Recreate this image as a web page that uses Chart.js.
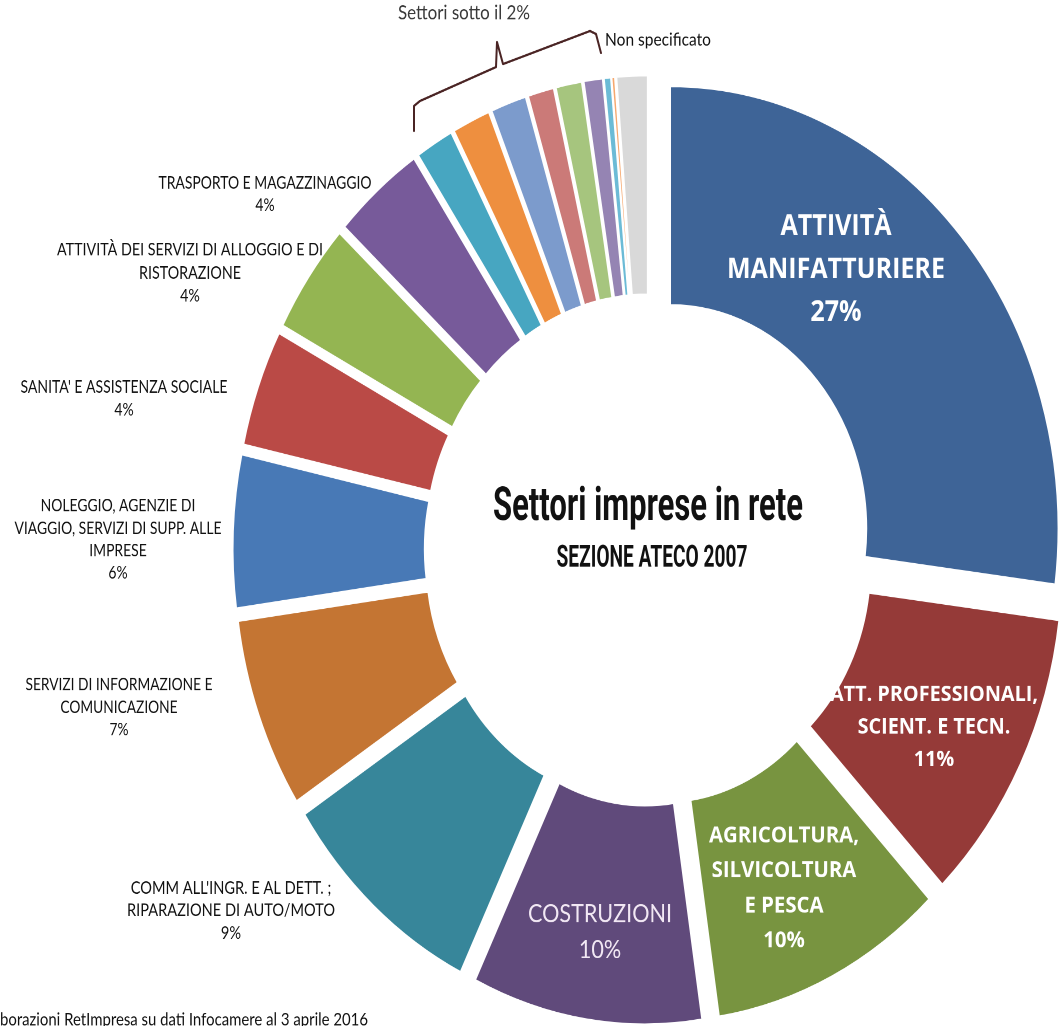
<!DOCTYPE html>
<html><head><meta charset="utf-8">
<script src="https://cdn.jsdelivr.net/npm/chart.js@4.4.1/dist/chart.umd.min.js"></script>
<style>
html,body{margin:0;padding:0;background:#fff;overflow:hidden;width:1060px;height:1026px;}
#stage{width:1060px;height:900px;transform-origin:0 0;position:relative;}
</style></head><body>
<div id="stage"><canvas id="c"></canvas></div>
<script>
// ---- data ----
const categories = [
  'ATTIVITÀ MANIFATTURIERE',
  'ATT. PROFESSIONALI, SCIENT. E TECN.',
  'AGRICOLTURA, SILVICOLTURA E PESCA',
  'COSTRUZIONI',
  "COMM ALL'INGR. E AL DETT. ; RIPARAZIONE DI AUTO/MOTO",
  'SERVIZI DI INFORMAZIONE E COMUNICAZIONE',
  'NOLEGGIO, AGENZIE DI VIAGGIO, SERVIZI DI SUPP. ALLE IMPRESE',
  "SANITA' E ASSISTENZA SOCIALE",
  'ATTIVITÀ DEI SERVIZI DI ALLOGGIO E DI RISTORAZIONE',
  'TRASPORTO E MAGAZZINAGGIO',
  'Settore sotto il 2% (1)',
  'Settore sotto il 2% (2)',
  'Settore sotto il 2% (3)',
  'Settore sotto il 2% (4)',
  'Settore sotto il 2% (5)',
  'Settore sotto il 2% (6)',
  'Settore sotto il 2% (7)',
  'Settore sotto il 2% (8)',
  'Non specificato'
];
const values = [27.1, 10.9, 9.8, 9.6, 8.7, 7.0, 5.6, 4.3, 4.1, 3.8,
                1.6, 1.6, 1.5, 1.1, 1.1, 0.8, 0.3, 0.15, 1.3];
const labelLines = [
  ['ATTIVITÀ', 'MANIFATTURIERE'],
  ['ATT. PROFESSIONALI,', 'SCIENT. E TECN.'],
  ['AGRICOLTURA,', 'SILVICOLTURA', 'E PESCA'],
  ['COSTRUZIONI'],
  ["COMM ALL'INGR. E AL DETT. ;", 'RIPARAZIONE DI AUTO/MOTO'],
  ['SERVIZI DI INFORMAZIONE E', 'COMUNICAZIONE'],
  ['NOLEGGIO, AGENZIE DI', 'VIAGGIO, SERVIZI DI SUPP. ALLE', 'IMPRESE'],
  ["SANITA' E ASSISTENZA SOCIALE"],
  ['ATTIVITÀ DEI SERVIZI DI ALLOGGIO E DI', 'RISTORAZIONE'],
  ['TRASPORTO E MAGAZZINAGGIO']
];
const centerTitle = 'Settori imprese in rete';
const centerSubtitle = 'SEZIONE ATECO 2007';
const bracketLabel = 'Settori sotto il 2%';
const unspecifiedLabel = 'Non specificato';
const sourceNote = 'Elaborazioni RetImpresa su dati Infocamere al 3 aprile 2016';

// ---- styles ----
const colors = ['#3E6497', '#953A38', '#789440', '#604A7B', '#37869A', '#C47533', '#4879B6',
  '#BA4A46', '#94B552', '#775A9A', '#47A6C1', '#EE8F3F', '#7C9BCC', '#CB7A78', '#A6C57E',
  '#9584B3', '#6CBBD6', '#F6A86E', '#D9D9D9'];
const STRETCH = 1.14;
document.getElementById('stage').style.transform = 'scale(1,' + STRETCH + ')';

const inBold = '"Open Sans", "Noto Sans", sans-serif';
const outFont = '15px Lato';
// x, y: screen position of first line centre; lh: line step; w: width of widest line
const labelLayout = [
  {x: 836, y: 227, lh: 43, w: 218, font: 'bold 25px ' + inBold, color: '#ffffff'},
  {x: 934, y: 695, lh: 32.5, w: 208, font: 'bold 19px ' + inBold, color: '#ffffff'},
  {x: 784, y: 836, lh: 35, w: 150, font: 'bold 20px ' + inBold, color: '#ffffff'},
  {x: 600, y: 914, lh: 36, w: 144, font: '22px Lato', color: '#F2E8F4'},
  {x: 231, y: 888, lh: 22.5, w: 208, font: outFont, color: '#111111'},
  {x: 119, y: 685, lh: 22.5, w: 187, font: outFont, color: '#111111'},
  {x: 118, y: 506, lh: 22.3, w: 207, font: outFont, color: '#111111'},
  {x: 124, y: 387, lh: 23, w: 207, font: outFont, color: '#111111'},
  {x: 190, y: 250, lh: 23, w: 266, font: outFont, color: '#111111'},
  {x: 265, y: 183, lh: 22.5, w: 213, font: outFont, color: '#111111'}
];

function drawText(ctx, s, x, ySc, font, color, align, sx) {
  ctx.save();
  ctx.font = font;
  ctx.fillStyle = color;
  ctx.textAlign = align || 'center';
  ctx.textBaseline = 'middle';
  ctx.translate(x, ySc / STRETCH);
  ctx.scale(sx || 1, 1);
  ctx.fillText(s, 0, 0);
  ctx.restore();
}
function fitScale(ctx, font, lines, w) {
  ctx.save();
  ctx.font = font;
  const m = Math.max.apply(null, lines.map(s => ctx.measureText(s).width));
  ctx.restore();
  return w ? w / m : 1;
}

// explode every slice along its bisector (Excel-like point explosion)
const explodePlugin = {
  id: 'explode',
  beforeDatasetDraw(chart, args, opts) {
    const ctx = chart.ctx;
    const d = opts.distance || 0;
    args.meta.data.forEach(arc => {
      const mid = (arc.startAngle + arc.endAngle) / 2;
      ctx.save();
      ctx.translate(Math.cos(mid) * d, Math.sin(mid) * d);
      arc.draw(ctx, chart.chartArea);
      ctx.restore();
    });
    return false;
  }
};

const annotatePlugin = {
  id: 'annotate',
  afterDraw(chart) {
    const ctx = chart.ctx;
    const total = values.reduce((a, b) => a + b, 0);
    labelLines.forEach((lines, i) => {
      const L = labelLayout[i];
      const sx = fitScale(ctx, L.font, lines, L.w);
      const all = lines.concat([Math.round(values[i] / total * 100) + '%']);
      all.forEach((s, k) => drawText(ctx, s, L.x, L.y + k * L.lh, L.font, L.color, 'center', sx));
    });
    // centre titles
    const tf = 'bold 41px Roboto', sf = 'bold 27px Roboto';
    drawText(ctx, centerTitle, 648, 508, tf, '#111111', 'center', fitScale(ctx, tf, [centerTitle], 310));
    drawText(ctx, centerSubtitle, 652, 559, sf, '#111111', 'center', fitScale(ctx, sf, [centerSubtitle], 191));
    // bracket annotation
    const bf = '17px Lato';
    drawText(ctx, bracketLabel, 464, 13, bf, '#3A3A3A', 'center', fitScale(ctx, bf, [bracketLabel], 132));
    drawText(ctx, unspecifiedLabel, 658, 40, '15.5px Lato', '#111111', 'center');
    ctx.save();
    ctx.strokeStyle = '#4A2424';
    ctx.lineWidth = 2;
    ctx.lineJoin = 'round';
    ctx.lineCap = 'round';
    const pts = [[414, 131], [414, 106], [420, 101], [496, 67], [497, 42], [503, 64], [590, 31], [596, 34], [601, 53]];
    ctx.beginPath();
    pts.forEach((p, k) => { const y = p[1] / STRETCH; if (k === 0) ctx.moveTo(p[0], y); else ctx.lineTo(p[0], y); });
    ctx.stroke();
    ctx.restore();
    // source note (its beginning is cut off at the left edge, as in the original)
    const nf = '15px Lato';
    ctx.save();
    ctx.font = nf;
    const cut = ctx.measureText('Ela').width;
    const full = ctx.measureText(sourceNote).width;
    ctx.restore();
    drawText(ctx, sourceNote, 368, 1020, nf, '#111111', 'right', 368 / (full - cut));
  }
};

new Chart(document.getElementById('c'), {
  type: 'doughnut',
  data: {
    labels: categories,
    datasets: [{data: values, backgroundColor: colors, borderColor: '#ffffff', borderWidth: 2}]
  },
  options: {
    responsive: true,
    maintainAspectRatio: false,
    devicePixelRatio: 2,
    animation: false,
    events: [],
    radius: 388.5,
    cutout: '50.5%',
    layout: {padding: {left: 238, top: 65, right: 0, bottom: 0}},
    plugins: {legend: {display: false}, tooltip: {enabled: false}, explode: {distance: 28}}
  },
  plugins: [explodePlugin, annotatePlugin]
});
</script>
</body></html>
